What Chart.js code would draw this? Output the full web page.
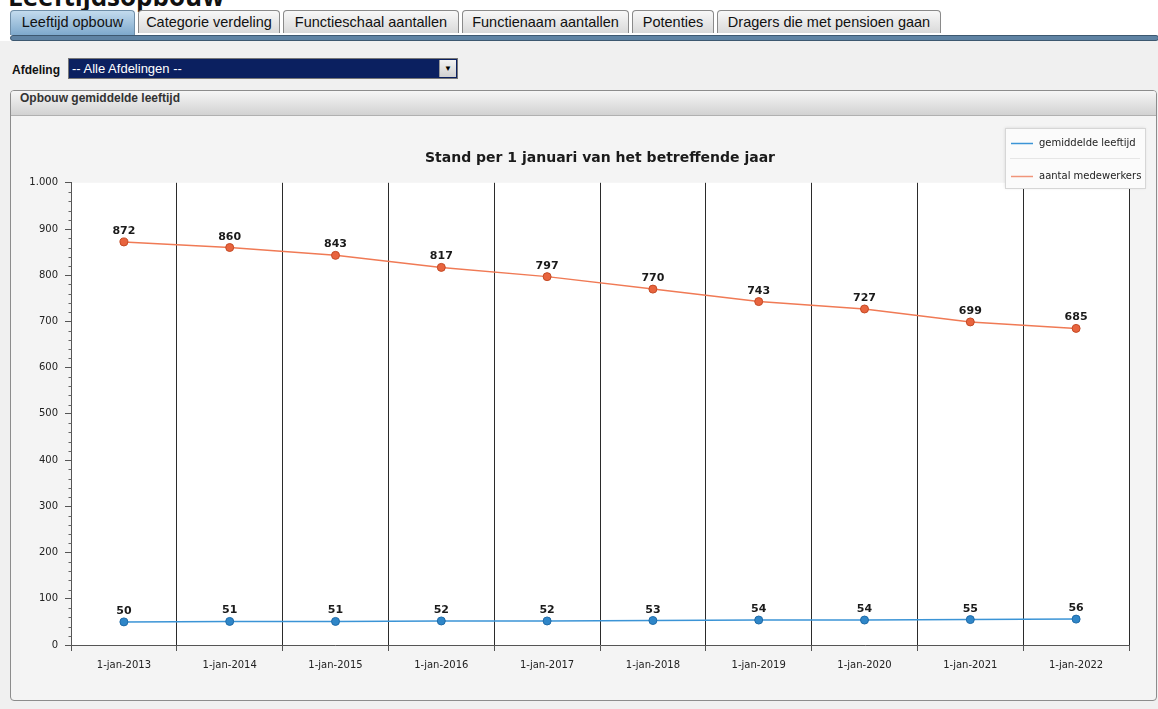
<!DOCTYPE html>
<html lang="nl">
  <head>
    <meta charset="UTF-8" />
    <title>Leeftijdsopbouw</title>
    <script src="https://cdn.jsdelivr.net/npm/chart.js"></script>
    <style>
      html, body {
        margin: 0;
        padding: 0;
        background: #fff;
        width: 1158px;
        height: 709px;
        overflow: hidden;
        font-family: "Liberation Sans", Arial, sans-serif;
      }
      h1 {
        position: absolute;
        left: 8px;
        top: -22px;
        margin: 0;
        font: bold 26px "Open Sans", sans-serif;
        color: #111;
      }
      .tabs {
        position: absolute;
        left: 10px;
        top: 10px;
        height: 25px;
        display: flex;
      }
      .tab {
        height: 23px;
        line-height: 23px;
        margin-right: 3px;
        font-size: 14.5px;
        text-align: center;
        color: #111;
        border: 1px solid #8a8a8a;
        border-bottom: none;
        border-radius: 4px 4px 0 0;
        background: linear-gradient(#f8f8f8, #d9d9d9);
        box-sizing: border-box;
      }
      .tab.active {
        background: linear-gradient(#c3dbee, #7ea9cc);
        border-color: #6f8ea8;
        height: 25px;
      }
      .bar {
        position: absolute;
        left: 10px;
        top: 35px;
        width: 1147px;
        height: 4px;
        background: #5f83a3;
        border: 1px solid #3d5870;
        border-radius: 3px;
      }
      .main {
        position: absolute;
        left: 0;
        top: 41px;
        width: 1158px;
        height: 668px;
        background: #f0f0f0;
      }
      .afd {
        position: absolute;
        left: 12px;
        top: 22px;
        font: bold 12px "Liberation Sans", Arial, sans-serif;
        color: #111;
      }
      .select {
        position: absolute;
        left: 68px;
        top: 17px;
        width: 385px;
        height: 19px;
        border: 1px solid #777;
        background: #0b2060;
        color: #fff;
        font-size: 13px;
        line-height: 19px;
        padding-left: 3px;
        box-sizing: content-box;
      }
      .select .arrow {
        position: absolute;
        right: 1px;
        top: 1px;
        width: 16px;
        height: 17px;
        background: linear-gradient(#f4f4f4, #d0d0d0);
        border-left: 1px solid #999;
        color: #000;
        font-size: 8px;
        text-align: center;
        line-height: 17px;
      }
      .panel {
        position: absolute;
        left: 10px;
        top: 49px;
        width: 1145px;
        height: 609px;
        border: 1px solid #8c8c8c;
        border-radius: 4px;
        background: #f4f4f4;
        overflow: hidden;
      }
      .panel-head {
        height: 24px;
        line-height: 24px;
        padding-left: 9px;
        font: bold 12px "Liberation Sans", Arial, sans-serif;
        color: #333;
        background: linear-gradient(#f6f6f6, #d2d2d2);
        border-bottom: 1px solid #b0b0b0;
      }
      .chart-box {
        position: relative;
        width: 1145px;
        height: 584px;
      }
    </style>
  </head>
  <body>
    <h1>Leeftijdsopbouw</h1>
    <div class="tabs">
      <div class="tab active" style="width: 125px">Leeftijd opbouw</div>
      <div class="tab" style="width: 142px">Categorie verdeling</div>
      <div class="tab" style="width: 176px">Functieschaal aantallen</div>
      <div class="tab" style="width: 167px">Functienaam aantallen</div>
      <div class="tab" style="width: 82px">Potenties</div>
      <div class="tab" style="width: 224px">Dragers die met pensioen gaan</div>
    </div>
    <div class="bar"></div>
    <div class="main">
      <div class="afd">Afdeling</div>
      <div class="select">-- Alle Afdelingen --<div class="arrow">&#9660;</div></div>
      <div class="panel">
        <div class="panel-head">Opbouw gemiddelde leeftijd</div>
        <div class="chart-box"><canvas id="chart"></canvas></div>
      </div>
    </div>

    <script>
      // data
      var years = [
        "1-jan-2013", "1-jan-2014", "1-jan-2015", "1-jan-2016", "1-jan-2017",
        "1-jan-2018", "1-jan-2019", "1-jan-2020", "1-jan-2021", "1-jan-2022",
      ];
      var avgAge = [50, 51, 51, 52, 52, 53, 54, 54, 55, 56];
      var employees = [872, 860, 843, 817, 797, 770, 743, 727, 699, 685];
      var seriesNames = ["gemiddelde leeftijd", "aantal medewerkers"];
      var chartTitle = "Stand per 1 januari van het betreffende jaar";

      var FONT = "'DejaVu Sans', Verdana, sans-serif";

      // white plot area with grey right border
      var plotBackground = {
        id: "plotBackground",
        beforeDraw: function (chart) {
          var a = chart.chartArea, ctx = chart.ctx;
          ctx.save();
          ctx.fillStyle = "#fff";
          ctx.fillRect(a.left, a.top, a.right - a.left, a.bottom - a.top);
          ctx.strokeStyle = "#9a9a9a";
          ctx.lineWidth = 1;
          ctx.beginPath();
          ctx.moveTo(Math.round(a.right) + 0.5, a.top);
          ctx.lineTo(Math.round(a.right) + 0.5, a.bottom + 5);
          ctx.stroke();
          ctx.restore();
        },
      };

      // minor ticks on the y axis every 20
      var minorTicks = {
        id: "minorTicks",
        afterDraw: function (chart) {
          var y = chart.scales.y, ctx = chart.ctx;
          var x0 = Math.round(y.right) + 0.5;
          ctx.save();
          ctx.strokeStyle = "#666";
          ctx.lineWidth = 1;
          ctx.beginPath();
          for (var v = 0; v <= y.max; v += 20) {
            if (v % 100 === 0) continue;
            var py = Math.round(y.getPixelForValue(v)) + 0.5;
            ctx.moveTo(x0 - 3, py);
            ctx.lineTo(x0, py);
          }
          ctx.stroke();
          ctx.restore();
        },
      };

      // value labels above the points
      var valueLabels = {
        id: "valueLabels",
        afterDatasetsDraw: function (chart) {
          var ctx = chart.ctx;
          ctx.save();
          ctx.font = "bold 11px " + FONT;
          ctx.fillStyle = "#1a1a1a";
          ctx.textAlign = "center";
          ctx.textBaseline = "alphabetic";
          chart.data.datasets.forEach(function (ds, i) {
            chart.getDatasetMeta(i).data.forEach(function (pt, j) {
              ctx.fillText(ds.data[j], pt.x, pt.y - 8);
            });
          });
          ctx.restore();
        },
      };

      // boxed legend in the top right corner
      var boxLegend = {
        id: "boxLegend",
        afterDraw: function (chart) {
          var ctx = chart.ctx;
          var x = 994, y = 12, w = 140, h = 60;
          ctx.save();
          ctx.shadowColor = "rgba(0,0,0,0.12)";
          ctx.shadowBlur = 3;
          ctx.fillStyle = "#fbfbfb";
          ctx.fillRect(x, y, w, h);
          ctx.shadowColor = "transparent";
          ctx.strokeStyle = "#d6d6d6";
          ctx.strokeRect(x + 0.5, y + 0.5, w, h);
          ctx.strokeStyle = "#e6e6e6";
          ctx.beginPath();
          ctx.moveTo(x + 5, y + 30.5);
          ctx.lineTo(x + w - 5, y + 30.5);
          ctx.stroke();
          ctx.font = "10px " + FONT;
          ctx.fillStyle = "#222";
          ctx.textBaseline = "middle";
          chart.data.datasets.forEach(function (ds, i) {
            var ly = y + 15.5 + i * 33;
            ctx.strokeStyle = ds.legendColor;
            ctx.lineWidth = 1.5;
            ctx.beginPath();
            ctx.moveTo(x + 6, ly);
            ctx.lineTo(x + 28, ly);
            ctx.stroke();
            ctx.fillText(ds.label, x + 34, ly);
          });
          ctx.restore();
        },
      };

      new Chart(document.getElementById("chart").getContext("2d"), {
        type: "line",
        data: {
          labels: years,
          datasets: [
            {
              label: seriesNames[0],
              data: avgAge,
              borderColor: "#3b94d6",
              legendColor: "#3b94d6",
              borderWidth: 1.5,
              backgroundColor: "#2f86c8",
              pointBorderColor: "#1f6ba8",
              pointRadius: 4,
              pointBorderWidth: 1,
              tension: 0,
            },
            {
              label: seriesNames[1],
              data: employees,
              borderColor: "#f07a55",
              legendColor: "#f0957a",
              borderWidth: 1.5,
              backgroundColor: "#e8643e",
              pointBorderColor: "#c44a25",
              pointRadius: 4,
              pointBorderWidth: 1,
              tension: 0,
            },
          ],
        },
        plugins: [plotBackground, minorTicks, valueLabels, boxLegend],
        options: {
          responsive: true,
          maintainAspectRatio: false,
          animation: false,
          layout: {
            padding: { top: 34, left: 0, right: 27, bottom: 21 },
          },
          plugins: {
            legend: { display: false },
            tooltip: { enabled: false },
            title: {
              display: true,
              text: chartTitle,
              color: "#1a1a1a",
              fullSize: false,
              font: { family: FONT, size: 14, weight: "bold" },
              padding: { top: 0, bottom: 16 },
            },
          },
          scales: {
            x: {
              offset: true,
              border: { color: "#555", width: 1 },
              grid: {
                offset: true,
                color: "#2b2b2b",
                drawTicks: true,
                tickLength: 6,
                tickColor: "#555",
              },
              ticks: {
                color: "#222",
                padding: 8,
                maxRotation: 0,
                font: { family: FONT, size: 10 },
              },
            },
            y: {
              min: 0,
              max: 1000,
              afterFit: function (s) {
                s.width = 60;
              },
              border: { color: "#555", width: 1 },
              grid: {
                drawOnChartArea: false,
                drawTicks: true,
                tickLength: 6,
                color: "#555",
              },
              ticks: {
                stepSize: 100,
                color: "#222",
                padding: 7,
                font: { family: FONT, size: 10 },
                callback: function (v) {
                  return v.toLocaleString("nl-NL");
                },
              },
            },
          },
        },
      });
    </script>
  </body>
</html>
